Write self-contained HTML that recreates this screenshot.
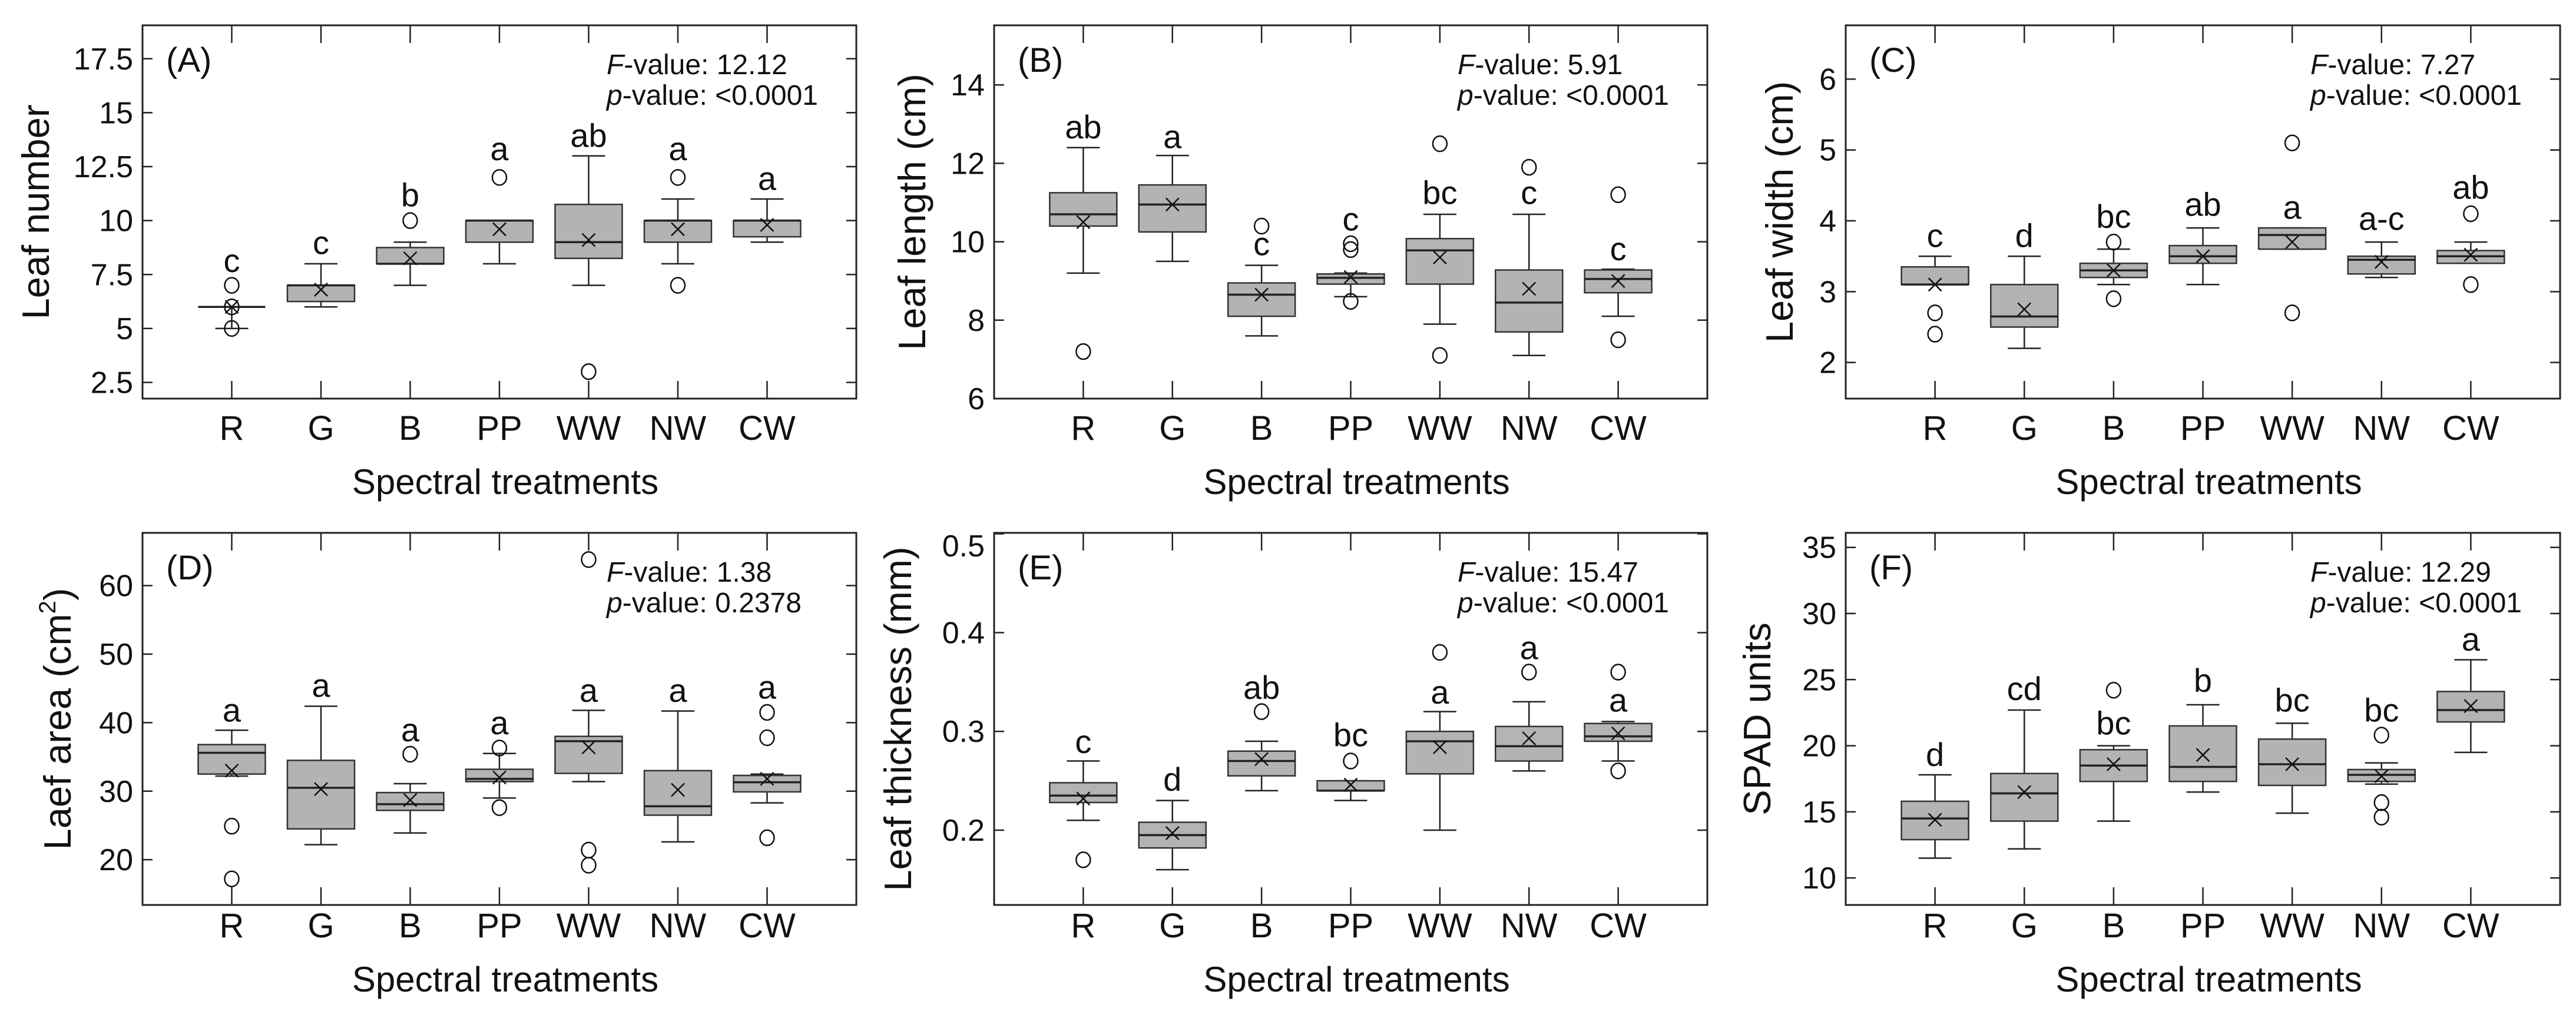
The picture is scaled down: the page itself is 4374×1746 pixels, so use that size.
<!DOCTYPE html>
<html><head><meta charset="utf-8">
<style>
html,body{margin:0;padding:0;background:#fff;}
svg{display:block;font-family:"Liberation Sans",Arial,sans-serif;}
</style></head>
<body>
<svg id="fig" xmlns="http://www.w3.org/2000/svg" width="4374" height="1746" viewBox="0 0 4374 1746">
<rect width="4374" height="1746" fill="#fff"/>
</svg>
<script>
const categories = ["R","G","B","PP","WW","NW","CW"];

// Panel A - Leaf number
const A_lo   = [5, 6, 7, 8, 7, 8, 9];
const A_q1   = [6, 6.25, 8, 9, 8.25, 9, 9.25];
const A_med  = [6, 7, 8, 10, 9, 10, 10];
const A_q3   = [6, 7, 8.75, 10, 10.75, 10, 10];
const A_hi   = [6, 8, 9, 10, 13, 11, 11];
const A_mean = [6, 6.8, 8.25, 9.6, 9.1, 9.6, 9.8];
const A_out  = [[7,6,5],[],[10],[12],[3],[12,7],[]];
const A_let  = ["c","c","b","a","ab","a","a"];
const A_letY = [7.61, 8.45, 10.66, 12.8, 13.41, 12.8, 11.43];
const A_ticks = [2.5,5,7.5,10,12.5,15,17.5];
const A_tickLabels = ["2.5","5","7.5","10","12.5","15","17.5"];

// Panel B - Leaf length
const B_lo   = [9.2, 9.5, 7.6, 8.6, 7.9, 7.1, 8.1];
const B_q1   = [10.4, 10.25, 8.1, 8.92, 8.92, 7.7, 8.7];
const B_med  = [10.7, 10.95, 8.65, 9.08, 9.78, 8.45, 9.05];
const B_q3   = [11.25, 11.45, 8.95, 9.18, 10.08, 9.28, 9.28];
const B_hi   = [12.4, 12.2, 9.4, 9.2, 10.7, 10.7, 9.3];
const B_mean = [10.5, 10.95, 8.65, 9.1, 9.6, 8.8, 9.0];
const B_out  = [[7.2],[],[10.4],[9.8,9.95,8.48],[12.5,7.1],[11.9],[11.2,7.5]];
const B_let  = ["ab","a","c","c","bc","c","c"];
const B_letY = [12.64, 12.39, 9.66, 10.29, 10.96, 10.96, 9.53];
const B_ticks = [6,8,10,12,14];
const B_tickLabels = ["6","8","10","12","14"];

// Panel C - Leaf width
const C_lo   = [3.1, 2.2, 3.1, 3.1, 3.6, 3.2, 3.4];
const C_q1   = [3.1, 2.5, 3.2, 3.4, 3.6, 3.25, 3.4];
const C_med  = [3.1, 2.65, 3.3, 3.5, 3.8, 3.45, 3.5];
const C_q3   = [3.35, 3.1, 3.4, 3.65, 3.9, 3.5, 3.58];
const C_hi   = [3.5, 3.5, 3.6, 3.9, 3.9, 3.7, 3.7];
const C_mean = [3.1, 2.75, 3.3, 3.5, 3.7, 3.42, 3.52];
const C_out  = [[2.7,2.4],[],[3.7,2.9],[],[5.1,2.7],[],[4.1,3.1]];
const C_let  = ["c","d","bc","ab","a","a-c","ab"];
const C_letY = [3.63, 3.63, 3.9, 4.07, 4.03, 3.87, 4.31];
const C_ticks = [2,3,4,5,6];
const C_tickLabels = ["2","3","4","5","6"];

// Panel D - Leaf area
const D_lo   = [32.2, 22.2, 23.9, 29, 31.4, 22.6, 28.3];
const D_q1   = [32.5, 24.5, 27.2, 31.4, 32.6, 26.5, 29.9];
const D_med  = [35.6, 30.5, 28.1, 31.8, 37.3, 27.8, 31.3];
const D_q3   = [36.8, 34.5, 29.8, 33.2, 38, 33, 32.3];
const D_hi   = [38.9, 42.4, 31.1, 35.5, 41.8, 41.7, 32.5];
const D_mean = [33, 30.3, 28.7, 32, 36.4, 30.2, 31.8];
const D_out  = [[24.9,17.2],[],[35.4],[36.3,27.6],[63.8,21.4,19.2],[],[41.5,37.8,23.2]];
const D_let  = ["a","a","a","a","a","a","a"];
const D_letY = [40.17, 43.77, 37.3, 38.3, 43.05, 43.05, 43.5];
const D_ticks = [20,30,40,50,60];
const D_tickLabels = ["20","30","40","50","60"];

// Panel E - Leaf thickness
const E_lo   = [0.21, 0.16, 0.24, 0.23, 0.2, 0.26, 0.27];
const E_q1   = [0.228, 0.182, 0.255, 0.24, 0.257, 0.27, 0.29];
const E_med  = [0.235, 0.195, 0.27, 0.24, 0.29, 0.285, 0.295];
const E_q3   = [0.248, 0.208, 0.28, 0.25, 0.3, 0.305, 0.308];
const E_hi   = [0.27, 0.23, 0.29, 0.25, 0.32, 0.33, 0.31];
const E_mean = [0.232, 0.197, 0.272, 0.246, 0.284, 0.293, 0.298];
const E_out  = [[0.17],[],[0.32],[0.27],[0.38],[0.36],[0.36,0.26]];
const E_let  = ["c","d","ab","bc","a","a","a"];
const E_letY = [0.278, 0.24, 0.333, 0.285, 0.328, 0.373, 0.32];
const E_ticks = [0.2,0.3,0.4,0.5];
const E_tickLabels = ["0.2","0.3","0.4","0.5"];

// Panel F - SPAD
const F_lo   = [11.5, 12.2, 14.3, 16.5, 14.9, 17.1, 19.5];
const F_q1   = [12.9, 14.3, 17.3, 17.3, 17, 17.3, 21.8];
const F_med  = [14.5, 16.4, 18.5, 18.4, 18.6, 17.8, 22.7];
const F_q3   = [15.8, 17.9, 19.7, 21.5, 20.5, 18.2, 24.1];
const F_hi   = [17.8, 22.7, 20, 23.1, 21.7, 18.7, 26.5];
const F_mean = [14.4, 16.5, 18.6, 19.3, 18.6, 17.7, 23];
const F_out  = [[],[],[24.2],[],[],[20.8,15.7,14.6],[]];
const F_let  = ["d","cd","bc","b","bc","bc","a"];
const F_letY = [18.47, 23.46, 20.84, 24.08, 22.59, 21.84, 27.2];
const F_ticks = [10,15,20,25,30,35];
const F_tickLabels = ["10","15","20","25","30","35"];

const NS = "http://www.w3.org/2000/svg";
const svg = document.getElementById("fig");
function mk(tag, attrs, parent){
  const e = document.createElementNS(NS, tag);
  for (const k in attrs) e.setAttribute(k, attrs[k]);
  (parent||svg).appendChild(e);
  return e;
}

const panels = [
  {id:"a",tag:"(A)",L:242,R:1454,T:43,B:677,ymin:1.75,ymax:19.05,lo:A_lo,q1:A_q1,med:A_med,q3:A_q3,hi:A_hi,mean:A_mean,out:A_out,let:A_let,letY:A_letY,ticks:A_ticks,tl:A_tickLabels,title:"Leaf number",tx:61,F:"12.12",p:"<0.0001",catDy:70},
  {id:"b",tag:"(B)",L:1688,R:2899,T:43,B:677,ymin:6,ymax:15.52,lo:B_lo,q1:B_q1,med:B_med,q3:B_q3,hi:B_hi,mean:B_mean,out:B_out,let:B_let,letY:B_letY,ticks:B_ticks,tl:B_tickLabels,title:"Leaf length (cm)",tx:1549,F:"5.91",p:"<0.0001",catDy:70},
  {id:"c",tag:"(C)",L:3134,R:4347,T:43,B:677,ymin:1.49,ymax:6.76,lo:C_lo,q1:C_q1,med:C_med,q3:C_q3,hi:C_hi,mean:C_mean,out:C_out,let:C_let,letY:C_letY,ticks:C_ticks,tl:C_tickLabels,title:"Leaf width (cm)",tx:3022,F:"7.27",p:"<0.0001",catDy:70},
  {id:"d",tag:"(D)",L:242,R:1454,T:905,B:1537,ymin:13.4,ymax:67.7,lo:D_lo,q1:D_q1,med:D_med,q3:D_q3,hi:D_hi,mean:D_mean,out:D_out,let:D_let,letY:D_letY,ticks:D_ticks,tl:D_tickLabels,title:"Laef area (cm",sup:"2",tx:98,F:"1.38",p:"0.2378",catDy:55},
  {id:"e",tag:"(E)",L:1688,R:2899,T:905,B:1537,ymin:0.1243,ymax:0.501,lo:E_lo,q1:E_q1,med:E_med,q3:E_q3,hi:E_hi,mean:E_mean,out:E_out,let:E_let,letY:E_letY,ticks:E_ticks,tl:E_tickLabels,title:"Leaf thickness (mm)",tx:1525,F:"15.47",p:"<0.0001",catDy:55},
  {id:"f",tag:"(F)",L:3134,R:4347,T:905,B:1537,ymin:7.96,ymax:36.1,lo:F_lo,q1:F_q1,med:F_med,q3:F_q3,hi:F_hi,mean:F_mean,out:F_out,let:F_let,letY:F_letY,ticks:F_ticks,tl:F_tickLabels,title:"SPAD units",tx:2984,F:"12.29",p:"<0.0001",catDy:55}
];

panels.forEach(P => {
  const g = mk("g", {});
  
  
  const y = v => P.B - (v - P.ymin) / (P.ymax - P.ymin) * (P.B - P.T);
  const band = (P.R - P.L) / 8;
  const x = i => P.L + band * (i + 1);

  // frame
  const fr = mk("rect", {x:P.L, y:P.T, width:P.R-P.L, height:P.B-P.T, fill:"none", stroke:"#222", "stroke-width":3}, g);
  
  

  // y ticks
  P.ticks.forEach((t, k) => {
    const ty = y(t);
    const tk = mk("path", {d:`M${P.L} ${ty}H${P.L+17}M${P.R} ${ty}H${P.R-17}`, stroke:"#222", "stroke-width":2.5}, g);
    
    
    let ly = ty + 18;
    if (ly - 38 < P.T) ly = P.T + 40;
    const lb = mk("text", {x:P.L-16, y:ly, "font-size":52, "text-anchor":"end", fill:"#111"}, g);
    lb.textContent = P.tl[k];
    
    
  });

  // categories
  categories.forEach((c, i) => {
    const cx = x(i);
    const tk = mk("path", {d:`M${cx} ${P.T}V${P.T+30}M${cx} ${P.B}V${P.B-30}`, stroke:"#222", "stroke-width":2.5}, g);
    
    
    const lb = mk("text", {x:cx, y:P.B+P.catDy, "font-size":58, "text-anchor":"middle", fill:"#111"}, g);
    lb.textContent = c;
    
    

    const bw = 114, cw = 56;
    // whiskers
    const wh = mk("path", {d:`M${cx} ${y(P.hi[i])}V${y(P.q3[i])}M${cx} ${y(P.q1[i])}V${y(P.lo[i])}M${cx-cw/2} ${y(P.hi[i])}H${cx+cw/2}M${cx-cw/2} ${y(P.lo[i])}H${cx+cw/2}`, stroke:"#222", "stroke-width":2.5, fill:"none"}, g);
    
    
    // box
    const bx = mk("rect", {x:cx-bw/2, y:y(P.q3[i]), width:bw, height:Math.max(0, y(P.q1[i])-y(P.q3[i])), fill:"#b3b3b3", stroke:"#333", "stroke-width":2.5}, g);
    
    
    // median
    const md = mk("line", {x1:cx-bw/2, x2:cx+bw/2, y1:y(P.med[i]), y2:y(P.med[i]), stroke:"#222", "stroke-width":3.5}, g);
    
    
    // mean
    const my = y(P.mean[i]), s = 11;
    const mn = mk("path", {d:`M${cx-s} ${my-s}L${cx+s} ${my+s}M${cx-s} ${my+s}L${cx+s} ${my-s}`, stroke:"#111", "stroke-width":2.5}, g);
    
    
    // outliers
    P.out[i].forEach(v => {
      const o = mk("ellipse", {cx:cx, cy:y(v), rx:12, ry:13, fill:"#fff", "fill-opacity":0, stroke:"#111", "stroke-width":2.5}, g);
      
      
    });
    // letter
    const lt = mk("text", {x:cx, y:y(P.letY[i]), "font-size":56, "text-anchor":"middle", fill:"#111"}, g);
    lt.textContent = P.let[i];
    
    
  });

  // panel tag
  const tg = mk("text", {x:P.L+40, y:P.T+79, "font-size":58, fill:"#111"}, g);
  tg.textContent = P.tag;
  
  

  // stats
  const st1 = mk("text", {x:P.R-424, y:P.T+83, "font-size":48, fill:"#111"}, g);
  st1.innerHTML = '<tspan font-style="italic">F</tspan>-value: ' + P.F;
  
  
  const st2 = mk("text", {x:P.R-424, y:P.T+135, "font-size":48, fill:"#111"}, g);
  st2.innerHTML = '<tspan font-style="italic">p</tspan>-value: ' + P.p.replace('<','&lt;');
  
  

  // x title
  const xt = mk("text", {x:(P.L+P.R)/2+10, y:P.B+P.catDy+92, "font-size":60, "text-anchor":"middle", fill:"#111"}, g);
  xt.textContent = "Spectral treatments";
  
  

  // y title
  const cy = (P.T+P.B)/2;
  const yt = mk("text", {x:0, y:0, "font-size":65, "text-anchor":"middle", fill:"#111", transform:`translate(${P.tx+22},${cy}) rotate(-90)`}, g);
  if (P.sup) {
    yt.innerHTML = P.title + '<tspan font-size="40" dy="-26">' + P.sup + '</tspan><tspan dy="26">)</tspan>';
  } else {
    yt.textContent = P.title;
  }
  
  
});
</script>
</body></html>
